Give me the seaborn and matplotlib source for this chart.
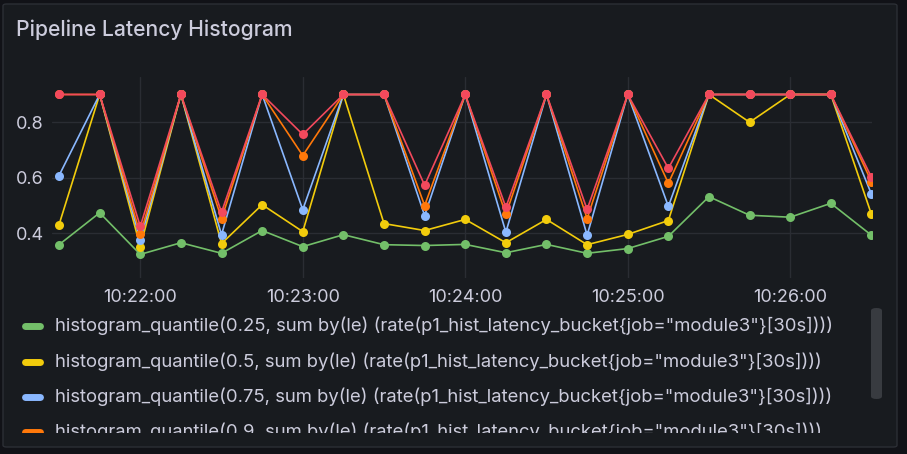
import pandas as pd
import matplotlib.pyplot as plt
import matplotlib.dates as mdates
from matplotlib.patches import FancyBboxPatch
import seaborn as sns

#   --  data (15s steps, 10:21:30 .. 10:26:30)
times = pd.date_range("2024-01-01 10:21:30", "2024-01-01 10:26:30", freq="15s")

q25 = [0.359, 0.474, 0.324, 0.366, 0.328, 0.410, 0.352, 0.395, 0.359, 0.356, 0.360,
       0.330, 0.360, 0.328, 0.345, 0.389, 0.532, 0.465, 0.458, 0.508, 0.393]
q50 = [0.431, 0.900, 0.352, 0.900, 0.363, 0.503, 0.406, 0.900, 0.435, 0.410, 0.450,
       0.366, 0.450, 0.359, 0.396, 0.446, 0.900, 0.800, 0.900, 0.900, 0.468]
q75 = [0.608, 0.900, 0.376, 0.900, 0.395, 0.900, 0.485, 0.900, 0.900, 0.464, 0.900,
       0.404, 0.900, 0.393, 0.900, 0.497, 0.900, 0.900, 0.900, 0.900, 0.541]
q90 = [0.900, 0.900, 0.396, 0.900, 0.453, 0.900, 0.680, 0.900, 0.900, 0.500, 0.900,
       0.468, 0.900, 0.453, 0.900, 0.580, 0.900, 0.900, 0.900, 0.900, 0.586]
q99 = [0.900, 0.900, 0.425, 0.900, 0.476, 0.900, 0.756, 0.900, 0.900, 0.573, 0.900,
       0.494, 0.900, 0.486, 0.900, 0.634, 0.900, 0.900, 0.900, 0.900, 0.602]

quantiles = ["0.25", "0.5", "0.75", "0.9", "0.99"]
series_vals = [q25, q50, q75, q90, q99]
colors = ["#73BF69", "#F2CC0C", "#8AB8FF", "#FF780A", "#F2495C"]
names = ['histogram_quantile(%s, sum by(le) (rate(p1_hist_latency_bucket{job="module3"}[30s])))' % q
         for q in quantiles]

frames = []
for name, vals in zip(names, series_vals):
    frames.append(pd.DataFrame({"time": times, "value": vals, "series": name}))
df = pd.concat(frames, ignore_index=True)

#   --  styling
sns.set_style("dark")
plt.rcParams["font.family"] = ["Inter", "DejaVu Sans"]
BG = "#181b1f"
TXT = "#ccccdc"
GRID = "#2a2d33"

fig = plt.figure(figsize=(9.07, 4.54), dpi=100)
fig.patch.set_facecolor("#111217")
W, H = 907.0, 454.0

panel = FancyBboxPatch((3 / W, 7 / H), 894 / W, 443 / H,
                       boxstyle="round,pad=0,rounding_size=0.004",
                       transform=fig.transFigure, facecolor=BG,
                       edgecolor="#2c2f35", linewidth=1.0, zorder=-10)
fig.patches.append(panel)

fig.text(16 / W, 1 - 30 / H, "Pipeline Latency Histogram", color=TXT,
         fontsize=15.2, fontweight="medium", va="center", ha="left")

ax = fig.add_axes([52 / W, 1 - 278 / H, 820 / W, 201 / H])
ax.set_facecolor(BG)
sns.lineplot(data=df, x="time", y="value", hue="series", hue_order=names,
             palette=colors, marker="o", markersize=6.5, markeredgewidth=0,
             linewidth=1.2, legend=False, ax=ax)

ax.set_xlim(times[0] - pd.Timedelta(seconds=2.6), times[-1] + pd.Timedelta(seconds=0.2))
ax.set_ylim(0.239, 0.963)
ax.set_yticks([0.4, 0.6, 0.8])
ax.set_yticklabels(["0.4", "0.6", "0.8"])
ax.xaxis.set_major_locator(mdates.MinuteLocator())
ax.xaxis.set_major_formatter(mdates.DateFormatter("%H:%M:%S"))
ax.tick_params(colors=TXT, labelsize=13, length=0)
ax.tick_params(axis="x", pad=8)
ax.tick_params(axis="y", pad=6)
ax.set_xlabel("")
ax.set_ylabel("")
ax.grid(True, color=GRID, linewidth=1)
for s in ax.spines.values():
    s.set_visible(False)

#   --  scrolled legend (clipped at the bottom like the panel)
lg = fig.add_axes([0, 1 - 433 / H, 866 / W, 128 / H])
lg.set_xlim(0, 866)
lg.set_ylim(433, 305)
lg.axis("off")
row_y = [326, 362, 397, 432]
for y, c, name in zip(row_y, colors, names):
    lg.plot([25, 40], [y, y], color=c, linewidth=5, solid_capstyle="round", clip_on=True)
    lg.text(55, y, name, color=TXT, fontsize=13.3, va="center", ha="left", clip_on=True)

scroll = FancyBboxPatch((871 / W, 1 - 399 / H), 11 / W, 91 / H,
                        boxstyle="round,pad=0,rounding_size=0.006",
                        transform=fig.transFigure, facecolor="#383b40",
                        edgecolor="none", zorder=1)
fig.patches.append(scroll)

fig.savefig("out.png", dpi=100, facecolor=fig.get_facecolor())
